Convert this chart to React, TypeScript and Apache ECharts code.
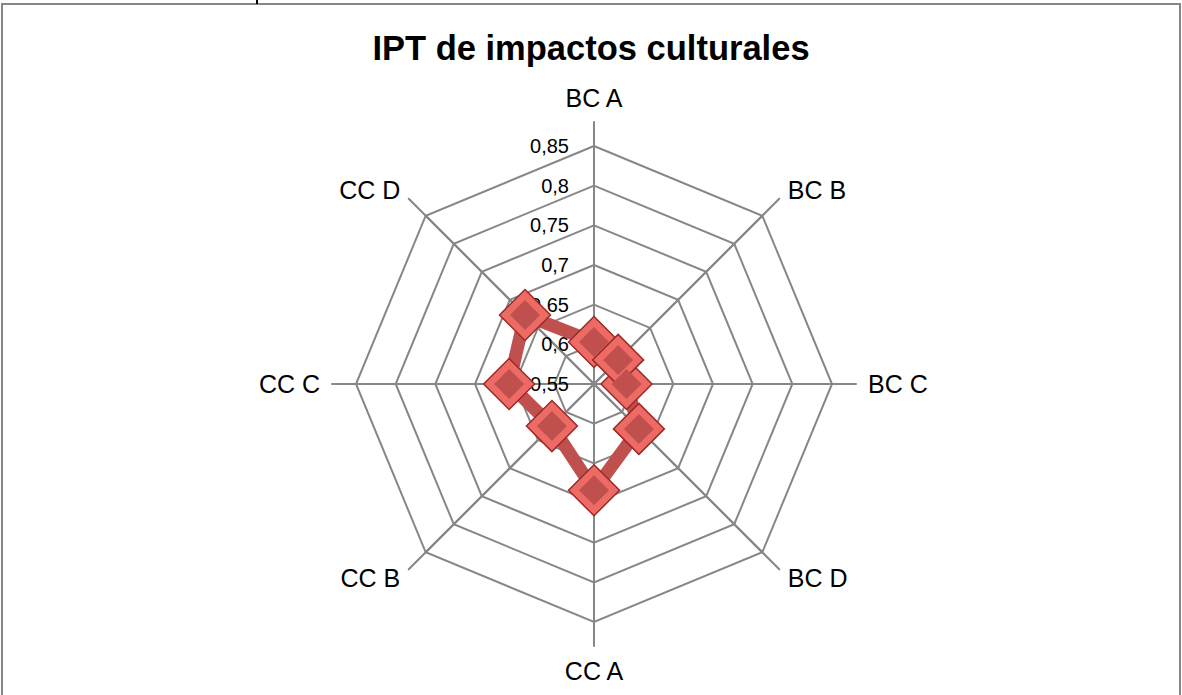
import React, { useEffect, useRef } from "react";
import * as echarts from "echarts";

// Categories in clockwise order starting at the top
const categories = ["BC A", "BC B", "BC C", "BC D", "CC A", "CC B", "CC C", "CC D"];
const values = [0.603, 0.593, 0.591, 0.63, 0.684, 0.625, 0.657, 0.673];
const tickMin = 0.55;
const tickMax = 0.85;
const tickSteps = 6;
const titleText = "IPT de impactos culturales";

const FONT = "Liberation Sans, Arial, sans-serif";
const GRID = "#878787";

// ECharts lays indicators out counter-clockwise; reorder to keep clockwise reading
const ccw = <T,>(a: T[]): T[] => [a[0], ...a.slice(1).reverse()];

export default function App() {
  const ref = useRef<HTMLDivElement>(null);
  useEffect(() => {
    document.body.style.margin = "0";
    const chart = echarts.init(ref.current!, null, { renderer: "svg" });
    const cats = ccw(categories);
    const vals = ccw(values);
    chart.setOption({
      animation: false,
      backgroundColor: "#ffffff",
      title: {
        text: titleText,
        left: "center",
        top: 25,
        textStyle: { fontFamily: FONT, fontSize: 34.5, fontWeight: "bold", color: "#000" },
      },
      graphic: [
        {
          type: "rect",
          shape: { x: 2, y: 4, width: 1178, height: 720 },
          style: { fill: "none", stroke: GRID, lineWidth: 2 },
          z: 0,
        },
        {
          type: "rect",
          shape: { x: 256, y: 0, width: 2, height: 4 },
          style: { fill: "#000" },
        },
      ],
      radar: [
        {
          center: [594, 384],
          radius: 262,
          shape: "polygon",
          indicator: cats.map((c) => ({ name: c, min: tickMin, max: tickMax })),
          splitNumber: 1,
          splitLine: { show: false },
          splitArea: { show: false },
          axisLine: { show: true, lineStyle: { color: GRID, width: 2 } },
          axisLabel: { show: false },
          axisTick: { show: false },
          nameGap: 12,
          axisName: { color: "#000", fontSize: 25, fontFamily: FONT },
        },
        {
          center: [594, 384],
          radius: 238,
          shape: "polygon",
          indicator: cats.map((c, i) => ({
            name: c,
            min: tickMin,
            max: tickMax,
            ...(i === 0 ? { axisLabel: { show: true } } : {}),
          })),
          splitNumber: tickSteps,
          splitLine: { show: true, lineStyle: { color: GRID, width: 2 } },
          splitArea: { show: false },
          axisLine: { show: true, lineStyle: { color: GRID, width: 2 } },
          axisTick: { show: false },
          axisName: { show: false },
          axisLabel: {
            show: false,
            color: "#000",
            fontSize: 20,
            fontFamily: FONT,
            margin: 25,
            showMinLabel: true,
            formatter: (v: number) => String(Math.round(v * 100) / 100).replace(".", ","),
          },
        },
      ],
      series: [
        {
          type: "radar",
          radarIndex: 1,
          symbol: "none",
          lineStyle: { color: "#c0504d", width: 13 },
          data: [{ value: vals }],
          z: 2,
        },
        {
          type: "radar",
          radarIndex: 1,
          symbol: "diamond",
          symbolSize: 51,
          lineStyle: { opacity: 0, width: 0 },
          itemStyle: { color: "#ee6a65", borderColor: "#9a2a27", borderWidth: 1.5 },
          data: [{ value: vals }],
          z: 3,
        },
        {
          type: "radar",
          radarIndex: 1,
          symbol: "diamond",
          symbolSize: 30,
          lineStyle: { opacity: 0, width: 0 },
          itemStyle: { color: "#c0504d", borderWidth: 0 },
          data: [{ value: vals }],
          z: 4,
        },
      ],
    });
    return () => chart.dispose();
  }, []);
  return <div ref={ref} style={{ width: 1182, height: 695 }} />;
}
